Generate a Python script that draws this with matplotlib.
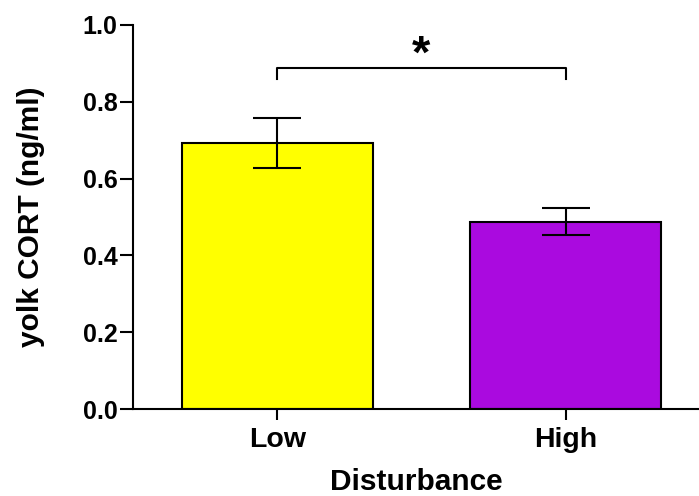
import matplotlib
matplotlib.use("Agg")
import matplotlib.pyplot as plt

categories = ["Low", "High"]
means = [0.694, 0.488]
err_low = [0.066, 0.035]
err_high = [0.064, 0.035]
colors = ["#FFFF00", "#AA0ADF"]
bracket_y = 0.887
bracket_drop = 0.859
star_y = 0.92
sig_label = "*"
yticks = [0.0, 0.2, 0.4, 0.6, 0.8, 1.0]
ytick_labels = ["0.0", "0.2", "0.4", "0.6", "0.8", "1.0"]

plt.rcParams['font.family'] = ['Liberation Sans', 'DejaVu Sans']
plt.rcParams['font.weight'] = 'bold'

fig = plt.figure(figsize=(6.99, 4.96), dpi=100)
ax = fig.add_axes([0.190, 0.1754, 0.810, 0.7742])

x = list(range(len(categories)))
ax.bar(x, means, width=0.664, color=colors, edgecolor="black", linewidth=1.5, zorder=2)
ax.errorbar(x, means, yerr=[err_low, err_high], fmt="none", ecolor="black",
            elinewidth=1.5, capsize=17.5, capthick=1.5, zorder=3)

# significance bracket
ax.plot([x[0], x[0], x[1], x[1]], [bracket_drop, bracket_y, bracket_y, bracket_drop],
        color="black", linewidth=1.5, clip_on=False)
ax.text((x[0] + x[1]) / 2, star_y, sig_label, ha="center", va="center",
        fontsize=34, fontweight="bold")

ax.set_xlim(-0.502, 1.463)
ax.set_ylim(0, 1.0)
ax.set_yticks(yticks)
ax.set_yticklabels(ytick_labels)
ax.set_xticks(x)
ax.set_xticklabels(categories)

for s in ["top", "right"]:
    ax.spines[s].set_visible(False)
for s in ["left", "bottom"]:
    ax.spines[s].set_linewidth(1.5)

ax.tick_params(axis="y", length=9.5, width=1.5, labelsize=18, pad=1.5)
ax.tick_params(axis="x", length=8, width=1.5, labelsize=20.5, pad=5)
for lbl in ax.get_xticklabels() + ax.get_yticklabels():
    lbl.set_fontweight("bold")

ax.set_ylabel("yolk CORT (ng/ml)", fontsize=21.5, fontweight="bold")
ax.set_xlabel("Disturbance", fontsize=21.5, fontweight="bold")
ax.yaxis.set_label_coords(-0.155, 0.5)
ax.xaxis.set_label_coords(0.5, -0.154)

fig.savefig("out.png", dpi=100)
